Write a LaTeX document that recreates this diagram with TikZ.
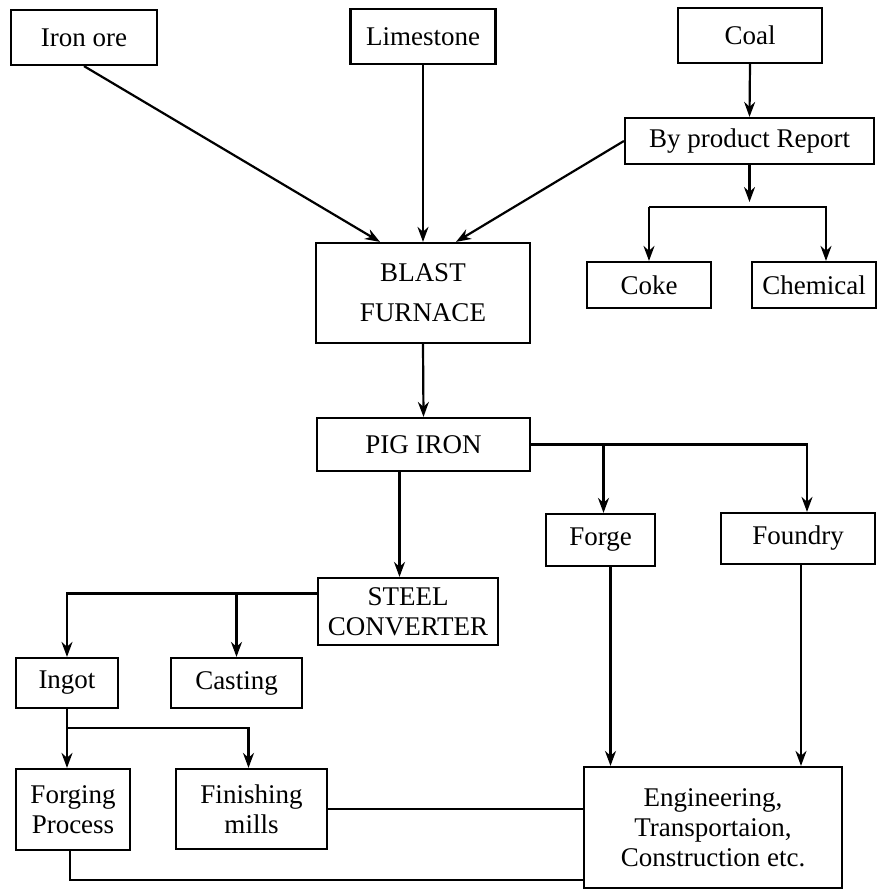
\documentclass[tikz,border=0pt]{standalone}
\usepackage{fontspec}
\setmainfont{Liberation Serif}
\usetikzlibrary{arrows.meta}

\begin{document}
\begin{tikzpicture}[x=0.5pt,y=-0.5pt,line width=1.1pt,>={Stealth[length=7.5pt,width=5.5pt]},
  box/.style={draw,inner sep=1pt,align=center,font=\fontsize{13.5}{15}\selectfont}]
\path[use as bounding box,fill=white] (0,0) rectangle (877,890);

\node[box,minimum width=73pt,minimum height=27.5pt] (iron) at (84,37.5) {Iron ore};
\node[box,minimum width=72.5pt,minimum height=27.5pt] (lime) at (423,36.5) {Limestone};
\node[box,minimum width=72pt,minimum height=27.5pt] (coal) at (750,35.5) {Coal};
\node[box,minimum width=124.5pt,minimum height=23pt] (byp) at (749.5,141) {By product Report};

\node[box,minimum width=107pt,minimum height=50pt] (blast) at (423,293) {BLAST\\[5pt]FURNACE};
\node[box,minimum width=62pt,minimum height=23pt] (coke) at (649,285) {Coke};
\node[box,minimum width=62pt,minimum height=23pt] (chem) at (814,285) {Chemical};

\node[box,minimum width=106.5pt,minimum height=26.5pt] (pig) at (423.5,444.5) {PIG IRON};
\node[box,minimum width=54.5pt,minimum height=26pt] (forge) at (600.5,540) {Forge};
\node[box,minimum width=77pt,minimum height=25.5pt] (foundry) at (798,538.5) {Foundry};

\node[box,minimum width=90pt,minimum height=33.5pt] (steel) at (408,611.5) {STEEL\\CONVERTER};
\node[box,minimum width=51pt,minimum height=25pt] (ingot) at (67,683) {Ingot};
\node[box,minimum width=65.5pt,minimum height=25pt] (casting) at (236.5,683) {Casting};

\node[box,minimum width=57pt,minimum height=40.5pt] (forging) at (73,809.5) {Forging\\Process};
\node[box,minimum width=75.5pt,minimum height=40pt] (finishing) at (251.5,809) {Finishing\\mills};
\node[box,minimum width=129pt,minimum height=60.5pt] (eng) at (713,827.5) {Engineering,\\Transportaion,\\Construction etc.};

% junctions and offset entry points
\coordinate (bar) at (749.5,207);
\coordinate (ibar) at (67,728);
\coordinate (fbot) at (0,880);
\coordinate (chemin) at ([xshift=6pt]chem.north);
\coordinate (forgein) at ([xshift=1.5pt]forge.north);
\coordinate (forgeout) at ([xshift=5pt]forge.south);
\coordinate (foundryout) at ([xshift=1.5pt]foundry.south);
\coordinate (pigout) at ([xshift=-12pt]pig.south);
\coordinate (steelout) at ([yshift=9pt]steel.west);

\draw[->] (iron.south) -- ([xshift=-21.5pt]blast.north);
\draw[->] (lime.south) -- (blast.north);
\draw[->] (byp.west) -- ([xshift=16.5pt]blast.north);
\draw[->] (coal.south) -- (byp.north);

\draw[->] (byp.south) -- ([yshift=2.5pt]bar);
\draw[->] (bar -| coke.north) -- (coke.north);
\draw[->] (bar -| coke.north) -- (bar -| chemin) -- (chemin);

\draw[->] (blast.south) -- (pig.north);
\draw[->] (pig.east) -| ([xshift=4.5pt]foundry.north);
\draw[->] (pig.east -| forgein) -- (forgein);
\draw[->] (pigout) -- (pigout |- steel.north);

\draw[->] (steelout) -| (ingot.north);
\draw[->] (steelout -| casting.north) -- (casting.north);

\draw[->] (ingot.south) -- (ingot.south |- forging.north);
\draw[->] (ibar) -| ([xshift=-1.5pt]finishing.north);

\draw[->] (forgeout) -- (forgeout |- eng.north);
\draw[->] (foundryout) -- (foundryout |- eng.north);
\draw (finishing.east) -- (finishing.east -| eng.west);
\draw ([xshift=-1.5pt]forging.south) |- (fbot -| eng.west);
\end{tikzpicture}
\end{document}
